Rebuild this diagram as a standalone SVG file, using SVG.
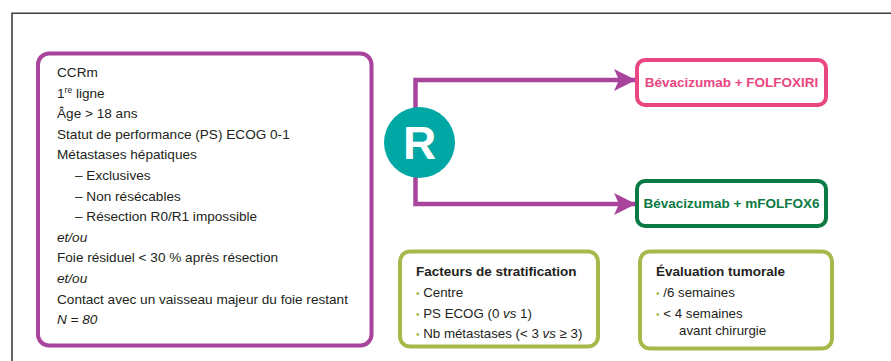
<svg xmlns="http://www.w3.org/2000/svg" width="891" height="361" viewBox="0 0 891 361">
<defs>
<style>
.t{font-family:"Liberation Sans",Arial,sans-serif;font-size:13.6px;fill:#231f20}
.s{font-family:"Liberation Sans",Arial,sans-serif;font-size:13.3px;fill:#231f20}
.b{font-family:"Liberation Sans",Arial,sans-serif;font-weight:bold;font-size:13.5px}
.i{font-style:italic}
.bul{fill:#a6ba4c;font-size:10px}
.conn{fill:none;stroke:#a8449b;stroke-width:4.5}
</style>
<marker id="ah" markerUnits="userSpaceOnUse" markerWidth="24" markerHeight="24" refX="22" refY="12" orient="auto">
<path d="M0,1 L22,12 L0,23 L5,12 Z" fill="#a8449b"/>
</marker>
</defs>
<rect width="891" height="361" fill="#fff"/>
<path d="M12,361 V13.3 H891" fill="none" stroke="#3f3f3f" stroke-width="1.6"/>

<g id="connectors">
<path class="conn" d="M415.5,142 V80 H636" marker-end="url(#ah)"/>
<path class="conn" d="M415.5,142 V204 H636" marker-end="url(#ah)"/>
</g>

<g id="criteria">
<rect x="38" y="53.5" width="333.5" height="292" rx="11" fill="#fff" stroke="#a8449b" stroke-width="4"/>
<text class="t" x="57" y="77">CCRm</text>
<text class="t" x="57" y="97.6">1<tspan font-size="8.5" dy="-5">re</tspan><tspan dy="5"> ligne</tspan></text>
<text class="t" x="57" y="118.2">Âge &gt; 18 ans</text>
<text class="t" x="57" y="138.8">Statut de performance (PS) ECOG 0-1</text>
<text class="t" x="57" y="159.4">Métastases hépatiques</text>
<text class="t" x="75" y="180">– Exclusives</text>
<text class="t" x="75" y="200.6">– Non résécables</text>
<text class="t" x="75" y="221.2">– Résection R0/R1 impossible</text>
<text class="t i" x="57" y="241.8">et/ou</text>
<text class="t" x="57" y="262.4">Foie résiduel &lt; 30 % après résection</text>
<text class="t i" x="57" y="283">et/ou</text>
<text class="t" x="57" y="303.6">Contact avec un vaisseau majeur du foie restant</text>
<text class="t i" x="57" y="324.2">N = 80</text>
</g>

<g id="R">
<circle cx="419.5" cy="142.5" r="35.5" fill="#00a8a5"/>
<text x="419.5" y="159" text-anchor="middle" font-family="Liberation Sans, Arial, sans-serif" font-weight="bold" font-size="46" fill="#fff">R</text>
</g>

<g id="arm1">
<rect x="637" y="60" width="189" height="45" rx="8" fill="#fff" stroke="#ea4682" stroke-width="4"/>
<text class="b" x="731.5" y="86.7" text-anchor="middle" fill="#ea4682">Bévacizumab + FOLFOXIRI</text>
</g>

<g id="arm2">
<rect x="637" y="181" width="189" height="45" rx="8" fill="#fff" stroke="#0b7a43" stroke-width="4"/>
<text class="b" x="731.5" y="208.3" text-anchor="middle" fill="#0b7a43">Bévacizumab + mFOLFOX6</text>
</g>

<g id="stratification">
<rect x="400" y="251.5" width="198" height="95" rx="10" fill="#fff" stroke="#a6ba4c" stroke-width="4"/>
<text class="b" x="416" y="276" fill="#231f20">Facteurs de stratification</text>
<text class="s" x="416" y="296.7"><tspan class="bul">•</tspan> Centre</text>
<text class="s" x="416" y="317.5"><tspan class="bul">•</tspan> PS ECOG (0 <tspan class="i">vs</tspan> 1)</text>
<text class="s" x="416" y="338.3"><tspan class="bul">•</tspan> Nb métastases (&lt; 3 <tspan class="i">vs</tspan> ≥ 3)</text>
</g>

<g id="evaluation">
<rect x="640" y="251.5" width="192" height="97" rx="10" fill="#fff" stroke="#a6ba4c" stroke-width="4"/>
<text class="b" x="656" y="276" fill="#231f20">Évaluation tumorale</text>
<text class="s" x="656" y="297.3"><tspan class="bul">•</tspan> /6 semaines</text>
<text class="s" x="656" y="318.3"><tspan class="bul">•</tspan> &lt; 4 semaines</text>
<text class="s" x="679" y="335">avant chirurgie</text>
</g>
</svg>
